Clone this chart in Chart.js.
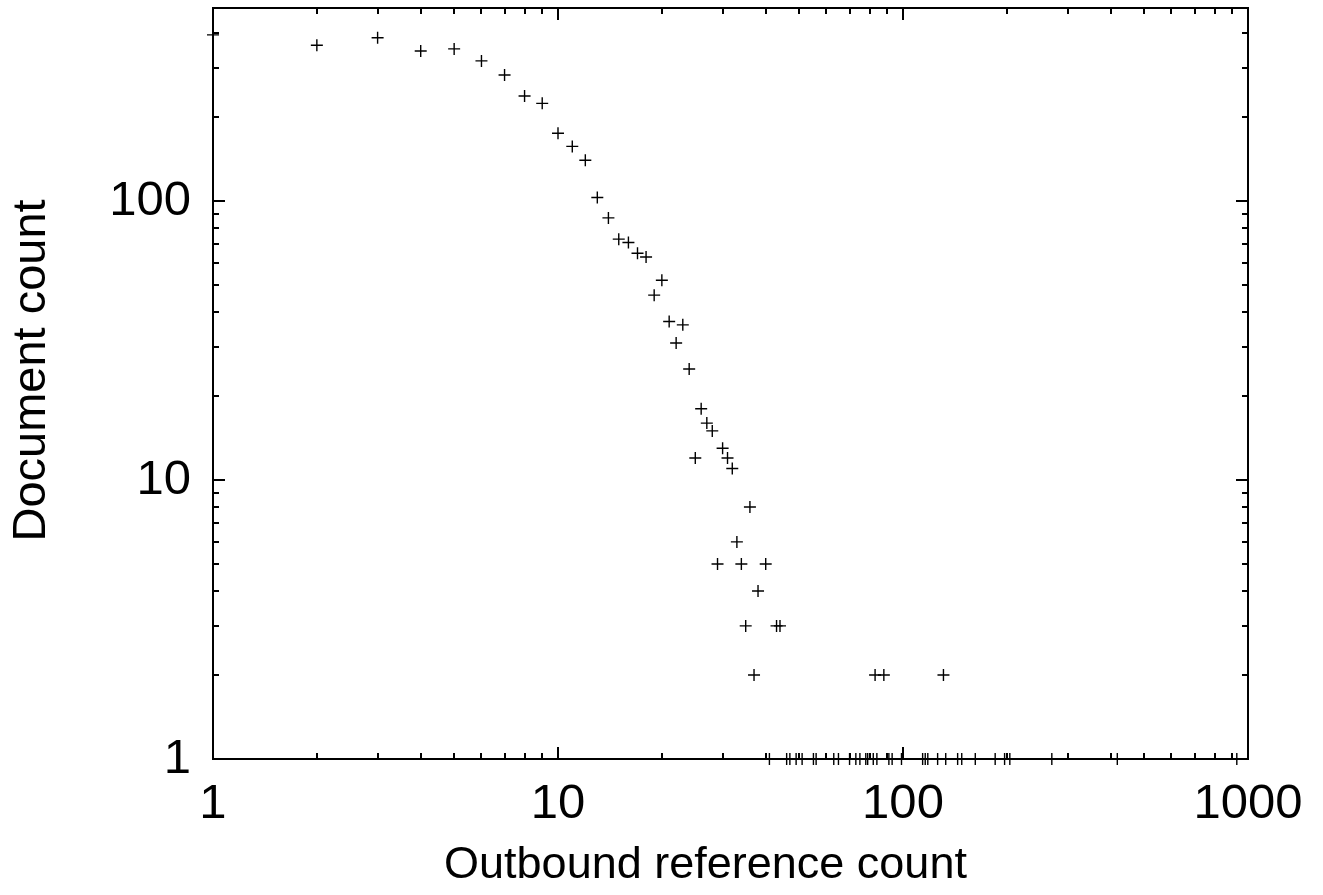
<!DOCTYPE html>
<html>
<head>
<meta charset="utf-8">
<script src="https://cdn.jsdelivr.net/npm/chart.js@4.4.0/dist/chart.umd.min.js"></script>
<style>
    html, body { margin: 0; padding: 0; background: #fff; }
    #wrap { width: 1323px; height: 895px; }
</style>
</head>
<body>
<div id="wrap"><canvas id="refs_chart"></canvas></div>
<script>
// outbound reference count (x) vs number of documents (y)
const refCounts = [
    1, 2, 3, 4, 5, 6, 7, 8, 9, 10,
    11, 12, 13, 14, 15, 16, 17, 18, 19, 20,
    21, 22, 23, 24, 25, 26, 27, 28, 29, 30,
    31, 32, 33, 34, 35, 36, 37, 38, 40, 41,
    43, 44, 46, 47, 49, 51, 55, 56, 63, 65,
    70, 73, 75, 78, 79, 82, 83, 84, 88, 91,
    93, 99, 114, 116, 118, 126, 131, 133, 144, 148,
    162, 185, 197, 204, 270, 418, 928
];
const docCounts = [
    394, 362, 385, 345, 351, 318, 283, 238, 224, 175,
    157, 140, 103, 87, 73, 71, 65, 63, 46, 52,
    37, 31, 36, 25, 12, 18, 16, 15, 5, 13,
    12, 11, 6, 5, 3, 8, 2, 4, 5, 1,
    3, 3, 1, 1, 1, 1, 1, 1, 1, 1,
    1, 1, 1, 1, 1, 1, 2, 1, 2, 1,
    1, 1, 1, 1, 1, 1, 2, 1, 1, 1,
    1, 1, 1, 1, 1, 1, 1
];

// tick labels
const xMajorTicks = [1, 10, 100, 1000];
const yMajorTicks = [1, 10, 100];
const xMax = 1000;
const yMax = 492;

// minor ticks 2..9 of every decade
function logTicks(majors, max) {
    const out = [];
    majors.forEach(m => {
        for (let k = 1; k <= 9; k++) {
            const v = m * k;
            if (v <= max) out.push(v);
        }
    });
    return out;
}
const xTickValues = logTicks(xMajorTicks, xMax);
const yTickValues = logTicks(yMajorTicks, yMax);

const points = refCounts.map((r, i) => ({ x: r, y: docCounts[i] }));

const FONT = "'Liberation Sans', Arial, sans-serif";

// gnuplot style frame with inward ticks on all four sides
const frameTicks = {
    id: 'frameTicks',
    afterDatasetsDraw(chart) {
        const { ctx, chartArea: a, scales: { x, y } } = chart;
        ctx.save();
        ctx.strokeStyle = '#000';
        ctx.lineWidth = 2;
        ctx.beginPath();
        x.ticks.forEach(t => {
            const px = Math.round(x.getPixelForValue(t.value));
            const len = xMajorTicks.includes(t.value) ? 12 : 6;
            ctx.moveTo(px, a.bottom); ctx.lineTo(px, a.bottom - len);
            ctx.moveTo(px, a.top); ctx.lineTo(px, a.top + len);
        });
        y.ticks.forEach(t => {
            const py = Math.round(y.getPixelForValue(t.value));
            const len = yMajorTicks.includes(t.value) ? 12 : 6;
            ctx.moveTo(a.left, py); ctx.lineTo(a.left + len, py);
            ctx.moveTo(a.right, py); ctx.lineTo(a.right - len, py);
        });
        ctx.stroke();
        ctx.strokeRect(a.left, a.top, a.right - a.left, a.bottom - a.top);
        ctx.restore();
    }
};

const ctx = document.getElementById('refs_chart').getContext('2d');

const refs_chart = new Chart(ctx, {
    type: 'scatter',
    data: {
        datasets: [{
            data: points,
            pointStyle: 'cross',
            pointRadius: 6,
            pointHoverRadius: 6,
            pointBorderWidth: 1.4,
            borderColor: '#000',
            backgroundColor: '#000',
            showLine: false,
            clip: false,
        }]
    },
    options: {
        responsive: true,
        maintainAspectRatio: false,
        animation: false,
        layout: { padding: { top: 8, right: 75, left: 0, bottom: 0 } },
        plugins: {
            legend: { display: false },
            tooltip: { enabled: false },
        },
        scales: {
            x: {
                type: 'logarithmic',
                min: 1,
                max: xMax,
                afterBuildTicks: (scale) => {
                    scale.ticks = xTickValues.map(v => ({ value: v }));
                },
                afterFit: (scale) => {
                    scale.height = 136;
                    scale.paddingLeft = 0;
                    scale.paddingRight = 0;
                },
                grid: { display: false, drawTicks: false },
                border: { display: false },
                ticks: {
                    autoSkip: false,
                    maxRotation: 0,
                    padding: 16,
                    color: '#000',
                    font: { family: FONT, size: 49 },
                    callback: (v) => xMajorTicks.includes(v) ? String(v) : '',
                },
                title: {
                    display: true,
                    // trailing spaces pull the label left like the original
                    text: 'Outbound reference count\u00a0\u00a0\u00a0\u00a0',
                    color: '#000',
                    font: { family: FONT, size: 45 },
                    padding: { top: 0, bottom: 2 },
                }
            },
            y: {
                type: 'logarithmic',
                min: 1,
                max: yMax,
                afterBuildTicks: (scale) => {
                    scale.ticks = yTickValues.map(v => ({ value: v }));
                },
                afterFit: (scale) => {
                    scale.width = 213;
                    scale.paddingTop = 0;
                    scale.paddingBottom = 0;
                },
                grid: { display: false, drawTicks: false },
                border: { display: false },
                ticks: {
                    autoSkip: false,
                    padding: 22,
                    color: '#000',
                    font: { family: FONT, size: 49 },
                    callback: (v) => yMajorTicks.includes(v) ? String(v) : '',
                },
                title: {
                    display: true,
                    text: '\u00a0\u00a0Document count',
                    color: '#000',
                    font: { family: FONT, size: 47 },
                    padding: { top: 4, bottom: 0 },
                }
            }
        }
    },
    plugins: [frameTicks]
});
</script>
</body>
</html>
